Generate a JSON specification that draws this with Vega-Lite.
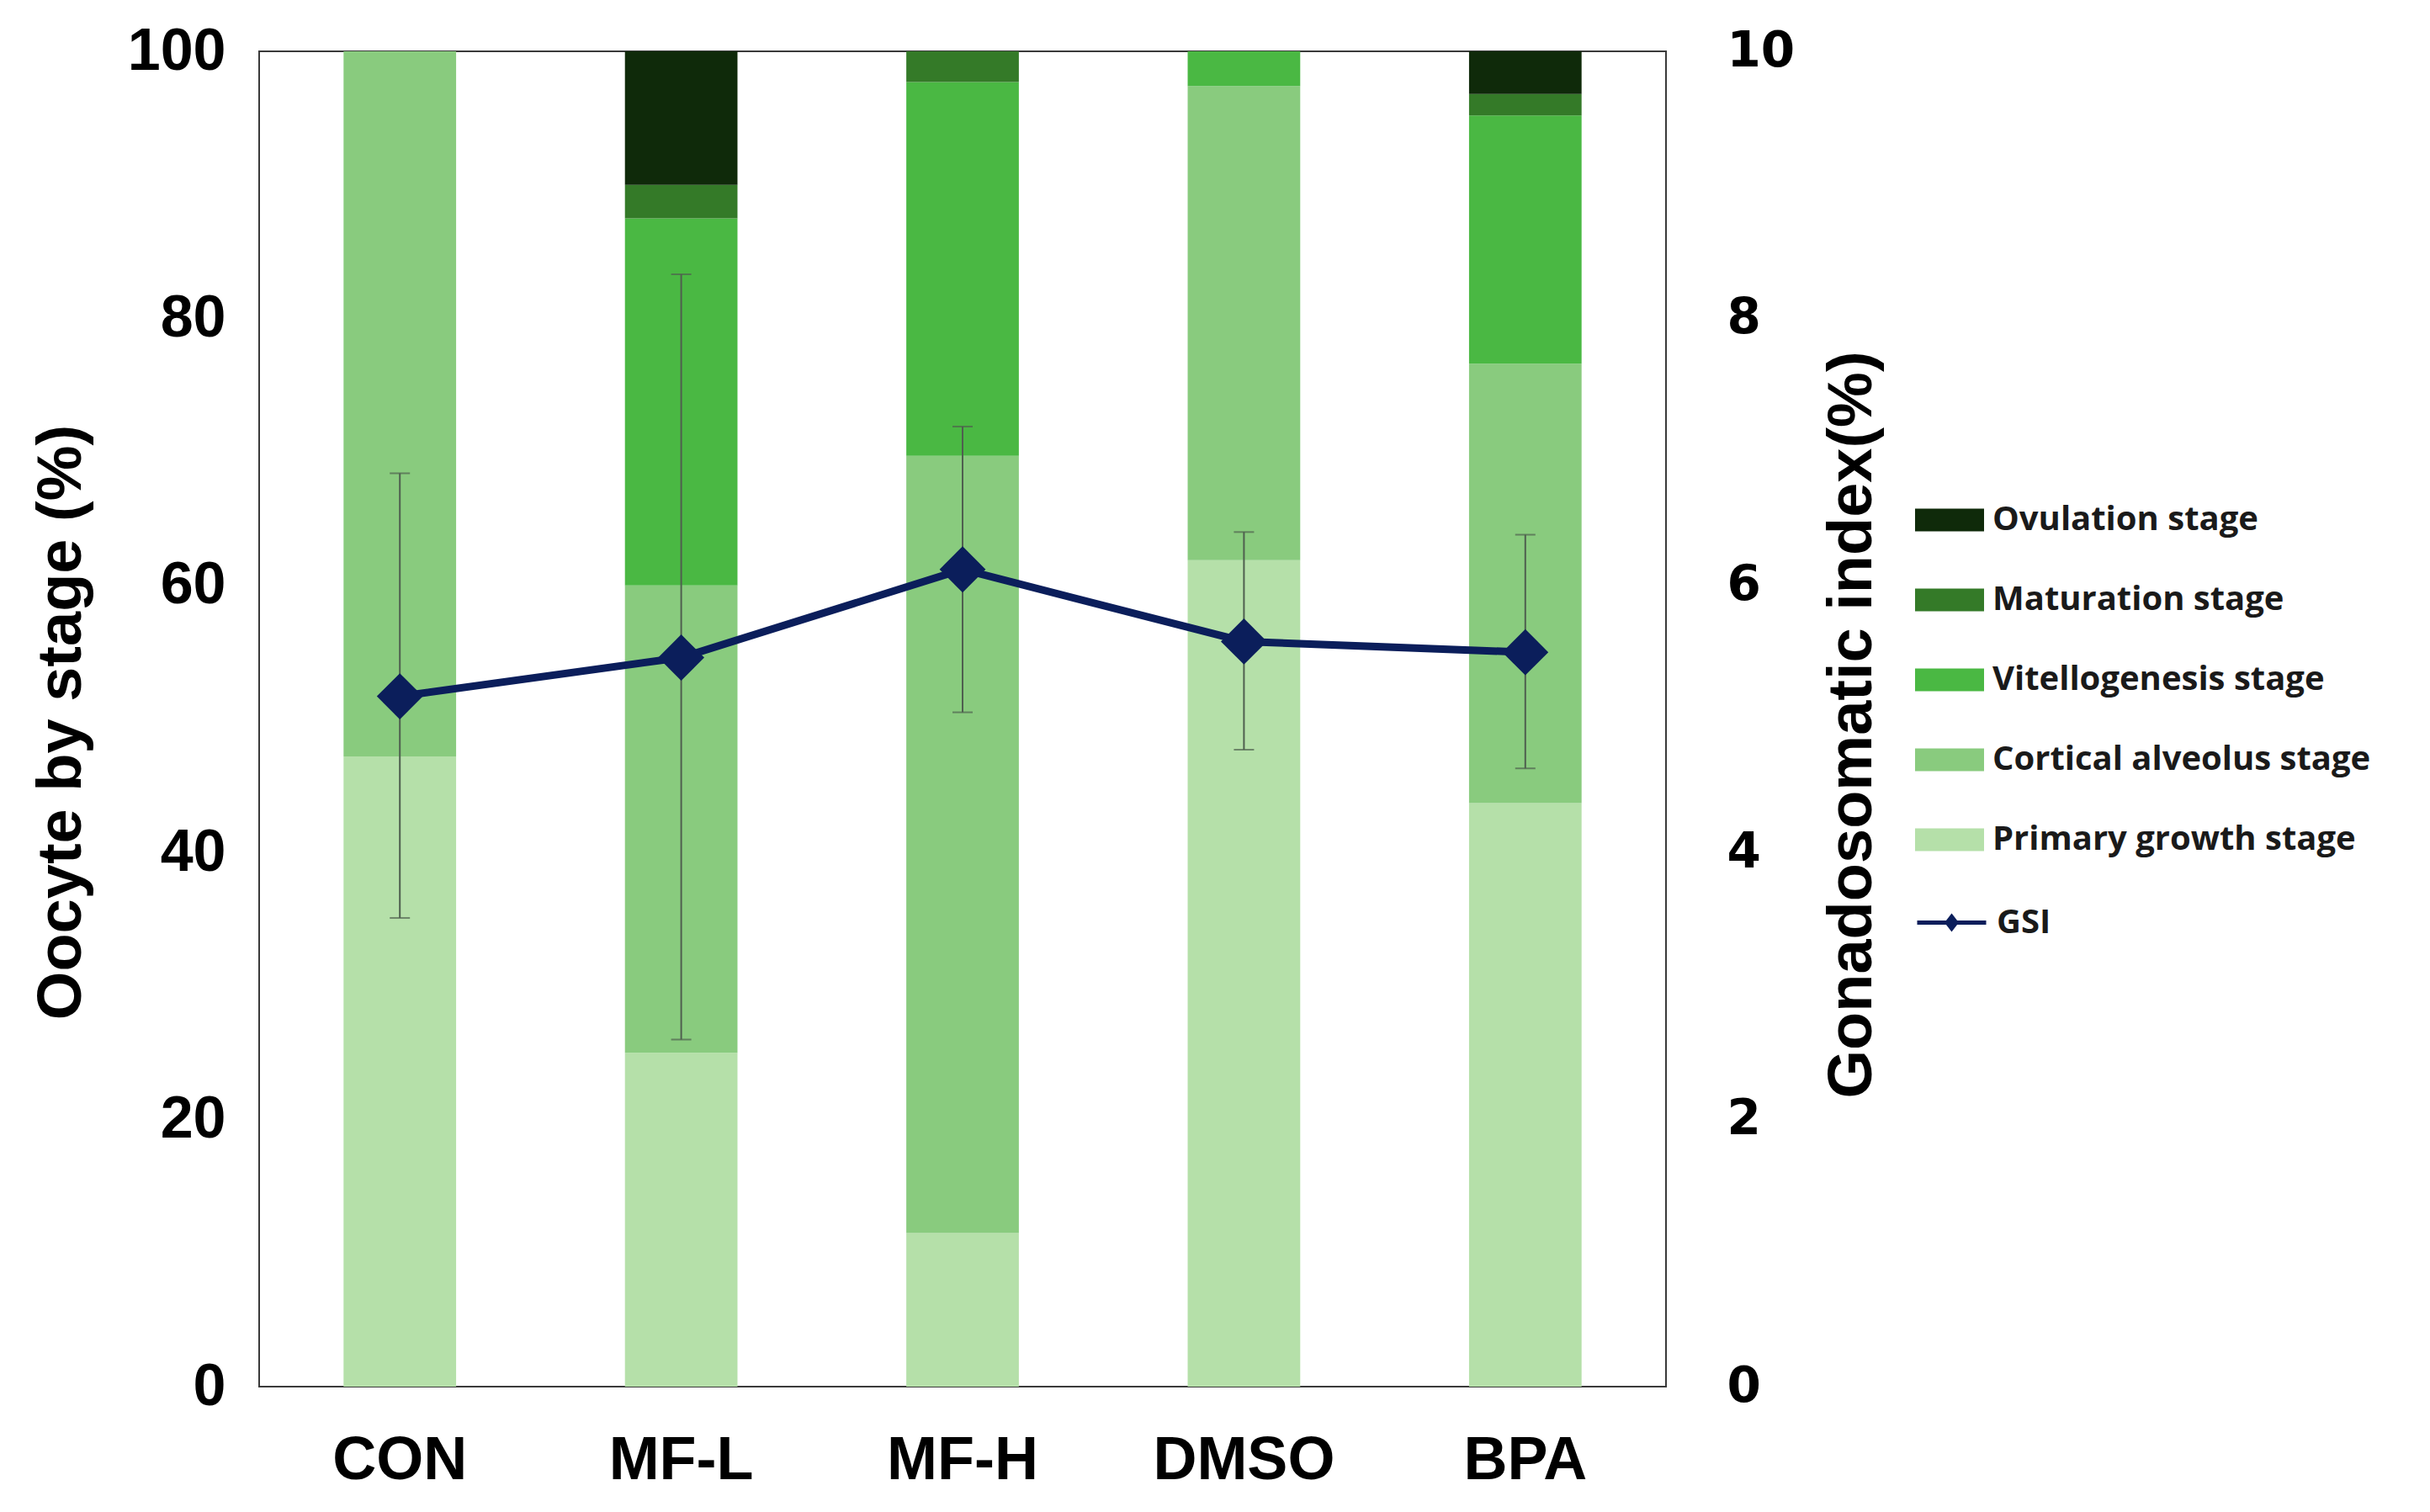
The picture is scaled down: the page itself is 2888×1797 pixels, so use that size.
{
  "$schema": "https://vega.github.io/schema/vega-lite/v6.json",
  "width": 1672,
  "height": 1587,
  "autosize": {"type": "none"},
  "padding": {"left": 308, "top": 61, "right": 908, "bottom": 149},
  "background": "white",
  "config": {
    "view": {"stroke": "#3a3a3a", "strokeWidth": 2},
    "axis": {"grid": false, "ticks": false, "tickSize": 0, "domain": false, "labelLimit": 0, "labelFont": "Liberation Sans", "labelFontWeight": "bold", "labelColor": "#000000", "titleFont": "Liberation Sans", "titleFontWeight": "bold", "titleColor": "#000000"},
    "axisX": {"labelFontSize": 72, "labelPadding": 52, "labelAngle": 0},
    "axisLeft": {"labelFontSize": 70, "labelPadding": 40, "tickCount": 5, "titleFontSize": 74, "titleAngle": 270, "titleX": -235, "titleY": 797, "titleAlign": "center", "titleBaseline": "middle"},
    "axisRight": {"labelFont": "DejaVu Sans", "labelFontSize": 58, "labelPadding": 72, "tickCount": 5, "titleFontSize": 74, "titleAngle": 270, "titleX": 221, "titleY": 800, "titleAlign": "center", "titleBaseline": "middle"},
    "legend": {"labelFont": "Open Sans", "labelFontWeight": "bold", "labelFontSize": 40, "labelColor": "#1a1a1a", "labelLimit": 1000}
  },
  "datasets": {
    "stages": [
      {"group": "CON", "stage": "Primary growth stage", "order": 1, "value": 47.2},
      {"group": "CON", "stage": "Cortical alveolus stage", "order": 2, "value": 52.8},
      {"group": "MF-L", "stage": "Primary growth stage", "order": 1, "value": 25.0},
      {"group": "MF-L", "stage": "Cortical alveolus stage", "order": 2, "value": 35.0},
      {"group": "MF-L", "stage": "Vitellogenesis stage", "order": 3, "value": 27.5},
      {"group": "MF-L", "stage": "Maturation stage", "order": 4, "value": 2.5},
      {"group": "MF-L", "stage": "Ovulation stage", "order": 5, "value": 10.0},
      {"group": "MF-H", "stage": "Primary growth stage", "order": 1, "value": 11.5},
      {"group": "MF-H", "stage": "Cortical alveolus stage", "order": 2, "value": 58.2},
      {"group": "MF-H", "stage": "Vitellogenesis stage", "order": 3, "value": 28.0},
      {"group": "MF-H", "stage": "Maturation stage", "order": 4, "value": 2.3},
      {"group": "DMSO", "stage": "Primary growth stage", "order": 1, "value": 61.9},
      {"group": "DMSO", "stage": "Cortical alveolus stage", "order": 2, "value": 35.5},
      {"group": "DMSO", "stage": "Vitellogenesis stage", "order": 3, "value": 2.6},
      {"group": "BPA", "stage": "Primary growth stage", "order": 1, "value": 43.7},
      {"group": "BPA", "stage": "Cortical alveolus stage", "order": 2, "value": 32.9},
      {"group": "BPA", "stage": "Vitellogenesis stage", "order": 3, "value": 18.6},
      {"group": "BPA", "stage": "Maturation stage", "order": 4, "value": 1.6},
      {"group": "BPA", "stage": "Ovulation stage", "order": 5, "value": 3.2}
    ],
    "gsi": [
      {"group": "CON", "gsi": 5.17, "lo": 3.51, "hi": 6.84},
      {"group": "MF-L", "gsi": 5.46, "lo": 2.60, "hi": 8.33},
      {"group": "MF-H", "gsi": 6.12, "lo": 5.05, "hi": 7.19},
      {"group": "DMSO", "gsi": 5.58, "lo": 4.77, "hi": 6.40},
      {"group": "BPA", "gsi": 5.50, "lo": 4.63, "hi": 6.38}
    ]
  },
  "encoding": {
    "x": {
      "field": "group",
      "type": "nominal",
      "sort": ["CON", "MF-L", "MF-H", "DMSO", "BPA"],
      "scale": {"paddingInner": 0.6, "paddingOuter": 0.3},
      "title": null
    }
  },
  "layer": [
    {
      "data": {"name": "stages"},
      "mark": {"type": "bar"},
      "encoding": {
        "y": {"field": "value", "type": "quantitative", "stack": "zero", "scale": {"domain": [0, 100], "nice": false}, "title": "Oocyte by stage (%)"},
        "color": {
          "field": "stage",
          "type": "nominal",
          "scale": {
            "domain": ["Ovulation stage", "Maturation stage", "Vitellogenesis stage", "Cortical alveolus stage", "Primary growth stage"],
            "range": ["#0f2a0a", "#347a28", "#4ab843", "#89cb7e", "#b5e0a9"]
          },
          "legend": {"title": null, "orient": "none", "legendX": 1968, "legendY": 516, "symbolType": "M-1,-0.33H1V0.33H-1Z", "symbolSize": 6724, "symbolStrokeWidth": 0, "rowPadding": 34, "labelOffset": 10}
        },
        "order": {"field": "order", "type": "quantitative", "sort": "ascending"}
      }
    },
    {
      "data": {"name": "gsi"},
      "layer": [
        {
          "mark": {"type": "rule", "color": "#4f5f4f", "strokeWidth": 2},
          "encoding": {
            "y": {"field": "lo", "type": "quantitative", "scale": {"domain": [0, 10], "nice": false}, "title": "Gonadosomatic index(%)"},
            "y2": {"field": "hi"}
          }
        },
        {
          "mark": {"type": "tick", "color": "#4f5f4f", "thickness": 2, "size": 24},
          "encoding": {
            "y": {"field": "lo", "type": "quantitative", "scale": {"domain": [0, 10], "nice": false}, "title": "Gonadosomatic index(%)"}
          }
        },
        {
          "mark": {"type": "tick", "color": "#4f5f4f", "thickness": 2, "size": 24},
          "encoding": {
            "y": {"field": "hi", "type": "quantitative", "scale": {"domain": [0, 10], "nice": false}, "title": "Gonadosomatic index(%)"}
          }
        },
        {
          "mark": {"type": "line", "strokeWidth": 9},
          "encoding": {
            "y": {"field": "gsi", "type": "quantitative", "scale": {"domain": [0, 10], "nice": false}, "title": "Gonadosomatic index(%)"},
            "stroke": {
              "datum": "GSI",
              "type": "nominal",
              "scale": {"domain": ["GSI"], "range": ["#0b1e5b"]},
              "legend": {"title": null, "orient": "none", "legendX": 1968, "legendY": 992, "symbolType": "M-1,0H1M0,-0.17L0.13,0L0,0.17L-0.13,0Z", "symbolSize": 6724, "symbolStrokeWidth": 5, "symbolFillColor": "#0b1e5b", "labelOffset": 10}
            }
          }
        },
        {
          "mark": {"type": "point", "shape": "diamond", "filled": true, "size": 3000, "color": "#0b1e5b", "opacity": 1},
          "encoding": {
            "y": {"field": "gsi", "type": "quantitative", "scale": {"domain": [0, 10], "nice": false}, "title": "Gonadosomatic index(%)"}
          }
        }
      ]
    }
  ],
  "resolve": {"scale": {"y": "independent"}}
}
